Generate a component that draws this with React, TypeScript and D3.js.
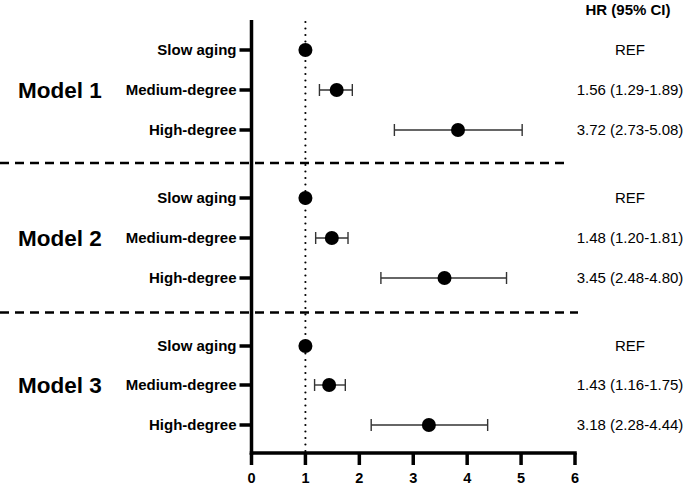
import React from "react";
import * as d3 from "d3";

const models = ["Model 1", "Model 2", "Model 3"];
const categories = ["Slow aging", "Medium-degree", "High-degree"];
// point estimates, per model (rows in category order)
const hrPoint = [
  [1.0, 1.58, 3.83],
  [1.0, 1.49, 3.58],
  [1.0, 1.44, 3.29],
];
const ciLow = [
  [null, 1.26, 2.65],
  [null, 1.19, 2.4],
  [null, 1.17, 2.22],
];
const ciHigh = [
  [null, 1.87, 5.02],
  [null, 1.79, 4.73],
  [null, 1.74, 4.38],
];
const hrText = [
  ["REF", "1.56 (1.29-1.89)", "3.72 (2.73-5.08)"],
  ["REF", "1.48 (1.20-1.81)", "3.45 (2.48-4.80)"],
  ["REF", "1.43 (1.16-1.75)", "3.18 (2.28-4.44)"],
];
const xTicks = [0, 1, 2, 3, 4, 5, 6];
const headerText = "HR (95% CI)";
const refValue = 1;

export default function App() {
  const W = 685, H = 485;
  const x = d3.scaleLinear().domain([0, 6]).range([251.5, 575]);
  const rowY = [
    [50, 90, 130],
    [198, 238, 278],
    [346, 385, 425],
  ];
  const sepY = [163, 312.5];
  const sepEnd = [564, 578];
  const axisTop = 20;
  const axisY = 453;
  const font = "'Liberation Sans', Arial, sans-serif";
  const textX = 630;

  return (
    <svg width={W} height={H} style={{ position: "absolute", left: 0, top: 0, background: "#fff" }} fontFamily={font}>
      {/* header */}
      <text x={textX - 2} y={15} textAnchor="middle" fontWeight="bold" fontSize={15}>{headerText}</text>

      {/* reference dotted line */}
      <line x1={x(refValue)} x2={x(refValue)} y1={axisTop + 2} y2={axisY} stroke="#000" strokeWidth={2.2}
        strokeDasharray="0 6.5" strokeLinecap="round" />

      {/* separators */}
      {sepY.map((y, i) => (
        <line key={i} x1={0} x2={sepEnd[i]} y1={y} y2={y} stroke="#000" strokeWidth={2.5} strokeDasharray="9 6" />
      ))}

      {/* y axis */}
      <line x1={x(0)} x2={x(0)} y1={axisTop} y2={axisY + 1.75} stroke="#000" strokeWidth={3.5} />
      {/* x axis */}
      <line x1={x(0) - 1.75} x2={x(6) + 1.75} y1={axisY} y2={axisY} stroke="#000" strokeWidth={3.5} />
      {xTicks.map((t) => (
        <g key={t}>
          <line x1={x(t)} x2={x(t)} y1={axisY} y2={axisY + 12} stroke="#000" strokeWidth={3.5} />
          <text x={x(t)} y={axisY + 30} textAnchor="middle" fontWeight="bold" fontSize={14.5}>{t}</text>
        </g>
      ))}

      {models.map((m, mi) => (
        <g key={m}>
          <text x={18} y={rowY[mi][1] + 8} fontWeight="bold" fontSize={22.5}>{m}</text>
          {categories.map((c, ci) => {
            const y = rowY[mi][ci];
            const lo = ciLow[mi][ci];
            const hi = ciHigh[mi][ci];
            return (
              <g key={c}>
                <line x1={x(0) - 12} x2={x(0)} y1={y} y2={y} stroke="#000" strokeWidth={3.5} />
                <text x={x(0) - 15} y={y + 5} textAnchor="end" fontWeight="bold" fontSize={15}>{c}</text>
                {lo != null && hi != null && (
                  <g stroke="#333" strokeWidth={1.4}>
                    <line x1={x(lo)} x2={x(hi)} y1={y} y2={y} />
                    <line x1={x(lo)} x2={x(lo)} y1={y - 6} y2={y + 6} />
                    <line x1={x(hi)} x2={x(hi)} y1={y - 6} y2={y + 6} />
                  </g>
                )}
                <circle cx={x(hrPoint[mi][ci])} cy={y} r={7} fill="#000" />
                <text x={textX} y={y + 5} textAnchor="middle" fontSize={15}>{hrText[mi][ci]}</text>
              </g>
            );
          })}
        </g>
      ))}
    </svg>
  );
}
